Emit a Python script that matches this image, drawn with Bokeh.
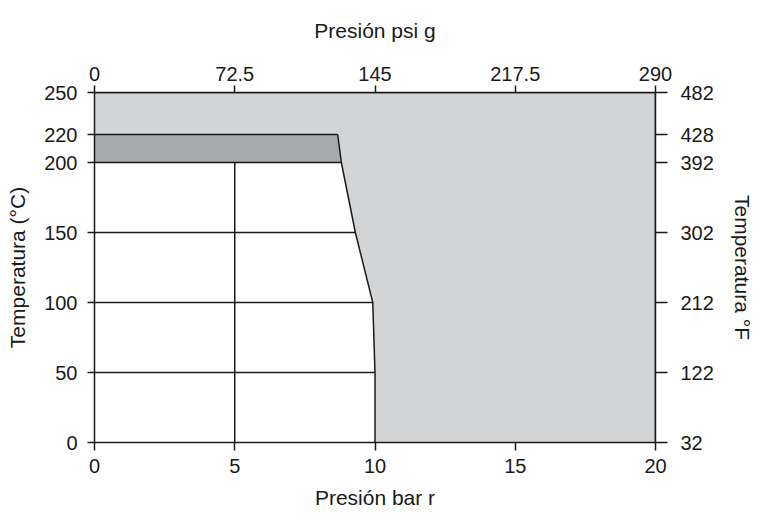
from bokeh.plotting import figure
from bokeh.models import Range1d, LinearAxis, FixedTicker
from bokeh.embed import file_html
from bokeh.resources import INLINE

# Data
bar_ticks = [0, 5, 10, 15, 20]
psi_ticks = [0, 72.5, 145, 217.5, 290]
c_ticks = [0, 50, 100, 150, 200, 220, 250]
f_labels = ["32", "122", "212", "302", "392", "428", "482"]
boundary_temp = [0, 50, 100, 150, 200, 220]
boundary_bar = [10.0, 10.0, 9.92, 9.3, 8.8, 8.67]
band_low, band_high = 200, 220
x_max, y_max, psi_max = 20, 250, 290
grid_x = [5]
grid_temps = [50, 100, 150, 200]

FONT = "Liberation Sans"
INK = "#1a1a1a"
LIGHT = "#d3d4d6"
DARK = "#a8a9ac"

p = figure(width=764, height=523, output_backend="svg", toolbar_location=None,
           x_range=Range1d(0, x_max), y_range=Range1d(0, y_max),
           frame_width=561, frame_height=350,
           min_border_left=94, min_border_right=109, min_border_top=92, min_border_bottom=81)
p.xgrid.visible = False
p.ygrid.visible = False
p.outline_line_color = None
p.background_fill_color = "white"

# light gray full area
p.quad(left=0, right=x_max, bottom=0, top=y_max, fill_color=LIGHT, line_color=None)

# white allowed region
wx = [0] + boundary_bar[:5] + [0]
wy = [0] + boundary_temp[:5] + [band_low]
p.patch(wx, wy, fill_color="white", line_color=None)

# dark band 200-220
i200 = boundary_temp.index(band_low)
i220 = boundary_temp.index(band_high)
p.patch([0, boundary_bar[i200], boundary_bar[i220], 0],
        [band_low, band_low, band_high, band_high], fill_color=DARK, line_color=None)

# boundary line
p.line(boundary_bar, boundary_temp, line_color=INK, line_width=1.5)
p.line([0, boundary_bar[i220]], [band_high, band_high], line_color=INK, line_width=1.5)

# internal grid lines
for t in grid_temps:
    bx = boundary_bar[boundary_temp.index(t)]
    p.line([0, bx], [t, t], line_color=INK, line_width=1.5)
for gx in grid_x:
    p.line([gx, gx], [0, band_low], line_color=INK, line_width=1.5)

# frame lines right/top
p.line([x_max, x_max], [0, y_max], line_color=INK, line_width=1.5)
p.line([0, x_max], [y_max, y_max], line_color=INK, line_width=1.5)

def style(ax, tick_out, standoff, label_standoff):
    ax.axis_line_color = INK
    ax.axis_line_width = 1.5
    ax.major_tick_line_color = INK
    ax.major_tick_line_width = 1.5
    ax.major_tick_out = tick_out
    ax.major_tick_in = 0
    ax.minor_tick_line_color = None
    ax.major_label_text_font = FONT
    ax.major_label_text_font_size = "20px"
    ax.major_label_text_color = INK
    ax.major_label_standoff = standoff
    ax.axis_label_text_font = FONT
    ax.axis_label_text_font_size = "21px"
    ax.axis_label_text_font_style = "normal"
    ax.axis_label_text_color = INK
    ax.axis_label_standoff = label_standoff

# bottom
xa = p.xaxis[0]
xa.ticker = FixedTicker(ticks=bar_ticks)
xa.axis_label = "Presión bar r"
style(xa, 8, 8, 10)

# left
ya = p.yaxis[0]
ya.ticker = FixedTicker(ticks=c_ticks)
ya.axis_label = "Temperatura (°C)"
style(ya, 7, 10, 12)

# top psi
p.extra_x_ranges = {"psi": Range1d(0, psi_max)}
top = LinearAxis(x_range_name="psi", ticker=FixedTicker(ticks=psi_ticks),
                 axis_label="Presión psi g")
top.major_label_overrides = {v: (str(v) if v != int(v) else str(int(v))) for v in psi_ticks}
style(top, 7, 5, 22)
p.add_layout(top, "above")

# right °F
right = LinearAxis(ticker=FixedTicker(ticks=c_ticks), axis_label="Temperatura °F")
right.major_label_overrides = {c: f for c, f in zip(c_ticks, f_labels)}
style(right, 12, 13, 14)
p.add_layout(right, "right")

open("out.html", "w").write(file_html(p, INLINE))
